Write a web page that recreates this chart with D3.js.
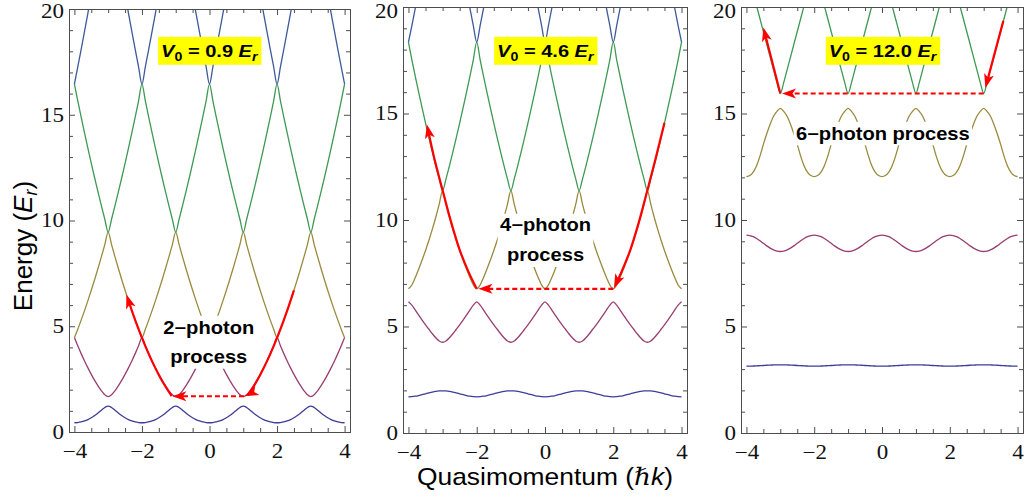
<!DOCTYPE html>
<html>
<head>
<meta charset="utf-8">
<script src="https://cdn.jsdelivr.net/npm/d3@7"></script>
<style>
  body { margin: 0; background: #fff; }
</style>
</head>
<body>
<div id="chart"></div>
<script>
// half a Brillouin zone, read at these quasimomenta (hbar k); bands are mirrored/tiled
var qHalf = [0, 0.1, 0.2, 0.3, 0.4, 0.5, 0.6, 0.7, 0.8, 0.9, 1.0];
var zoneCentres = [-4, -2, 0, 2, 4];

// V0 = 0.9 Er
var bandsShallow = [
  [0.437, 0.446, 0.474, 0.522, 0.589, 0.675, 0.779, 0.899, 1.031, 1.159, 1.225],
  [4.463, 4.074, 3.706, 3.358, 3.031, 2.725, 2.441, 2.181, 1.949, 1.761, 1.675],
  [4.46, 4.86, 5.29, 5.74, 6.21, 6.70, 7.21, 7.74, 8.29, 8.86, 9.45],
  [16.45, 15.66, 14.89, 14.14, 13.41, 12.70, 12.01, 11.34, 10.69, 10.06, 9.45],
  [16.45, 17.26, 18.09, 18.94, 19.81, 20.70, 21.61, 22.54, 23.49, 24.46, 25.45]
];
// V0 = 4.6 Er
var bandsMid = [
  [1.70, 1.707, 1.727, 1.758, 1.797, 1.84, 1.883, 1.922, 1.953, 1.973, 1.98],
  [6.16, 6.00, 5.77, 5.53, 5.30, 5.08, 4.87, 4.66, 4.47, 4.32, 4.26],
  [6.77, 6.95, 7.30, 7.70, 8.12, 8.57, 9.05, 9.57, 10.13, 10.73, 11.38],
  [18.35, 17.52, 16.74, 15.99, 15.26, 14.55, 13.86, 13.19, 12.54, 11.93, 11.38],
  [18.35, 19.13, 19.95, 20.80, 21.66, 22.55, 23.46, 24.40, 25.40, 26.30, 27.30]
];
// V0 = 12.0 Er
var bandsDeep = [
  [3.14, 3.141, 3.145, 3.15, 3.16, 3.17, 3.18, 3.19, 3.195, 3.20, 3.20],
  [9.29, 9.271, 9.216, 9.131, 9.024, 8.905, 8.786, 8.679, 8.593, 8.539, 8.52],
  [12.04, 12.09, 12.25, 12.55, 13.0, 13.55, 14.05, 14.50, 14.87, 15.10, 15.24],
  [21.9, 21.3, 20.7, 20.05, 19.45, 18.85, 18.25, 17.65, 17.05, 16.45, 15.94]
];

var bandColors = ['#3d3d99', '#993d71', '#998b3d', '#3d9954', '#3d5a99'];

// red transition arrows (quasimomentum, energy)
var arrowsShallow = [
  { q: [-1.12, -1.3, -1.5, -1.7, -1.9, -2.1, -2.3, -2.46], e: [1.70, 2.14, 2.70, 3.34, 4.06, 4.86, 5.74, 6.50] },
  { q: [2.5, 2.3, 2.1, 1.9, 1.7, 1.5, 1.3, 1.15, 1.04], e: [6.70, 5.74, 4.86, 4.06, 3.34, 2.70, 2.14, 1.77, 1.69] }
];
var dashShallow = { q: [1.02, -1.1], e: [1.69, 1.69] };

var arrowsMid = [
  { q: [-2.0, -2.25, -2.5, -2.75, -3.0, -3.25, -3.46], e: [6.77, 7.6, 8.6, 9.9, 11.4, 12.95, 14.48] },
  { q: [3.5, 3.25, 3.0, 2.75, 2.5, 2.25, 2.02], e: [14.56, 12.95, 11.4, 9.9, 8.6, 7.6, 6.80] }
];
var dashMid = { q: [2.0, -1.95], e: [6.77, 6.77] };

var arrowsDeep = [
  { q: [-3.0, -3.5], e: [15.94, 19.04] },
  { q: [3.58, 3.05], e: [19.35, 16.2] }
];
var dashDeep = { q: [3.0, -2.95], e: [15.94, 15.94] };

var depthValues = ['0.9', '4.6', '12.0'];
var processLines = [['2\u2212photon', 'process'], ['4\u2212photon', 'process'], ['6\u2212photon process']];

var xTicks = [-4, -2, 0, 2, 4];
var yTicks = [0, 5, 10, 15, 20];

// ---------------------------------------------------------------------------
var width = 1025, height = 502;
var frameColor = '#4d4d4d';
var sansFont = "'Liberation Sans', Arial, Helvetica, sans-serif";
var serifFont = "'Liberation Serif', 'DejaVu Serif', serif";

var panels = [
  { bands: bandsShallow, arrows: arrowsShallow, dash: dashShallow,
    x0: 69, x1: 350, y0: 9, y1: 432, boxX: 209.3, procX: 208.7, procY: [333.6, 363] },
  { bands: bandsMid, arrows: arrowsMid, dash: dashMid,
    x0: 403, x1: 687, y0: 7, y1: 433, boxX: 545.3, procX: 545.5, procY: [231.5, 261.3] },
  { bands: bandsDeep, arrows: arrowsDeep, dash: dashDeep,
    x0: 741, x1: 1023, y0: 7, y1: 433, boxX: 882.5, procX: 882.8, procY: [139.6] }
];

var svg = d3.select('#chart').append('svg')
  .attr('width', width)
  .attr('height', height);

svg.append('rect').attr('width', width).attr('height', height).attr('fill', '#fff');

var defs = svg.append('defs');

// repeat the half-zone values over -4..4
function tileBand(vals) {
  var pts = [];
  zoneCentres.forEach(function(c) {
    qHalf.forEach(function(q, i) {
      pts.push([c - q, vals[i]]);
      if (q > 0) pts.push([c + q, vals[i]]);
    });
  });
  pts = pts.filter(function(p) { return p[0] >= -4.0001 && p[0] <= 4.0001; });
  pts.sort(function(a, b) { return a[0] - b[0]; });
  return pts.filter(function(p, i) { return i === 0 || Math.abs(p[0] - pts[i - 1][0]) > 1e-6; });
}

// stretch text horizontally (the source figure was rendered wide)
function stretch(sel, sx) {
  sel.each(function() {
    var t = d3.select(this);
    var xv = +t.attr('x') || 0;
    t.attr('x', xv / sx).attr('transform', 'scale(' + sx + ',1)');
  });
}

function drawArrow(g, x, y, q, e, dashed) {
  var pts = q.map(function(v, i) { return [x(v), y(e[i])]; });
  var n = pts.length;
  var tip = pts[n - 1];
  var prev = pts[n - 2];
  var ang = Math.atan2(tip[1] - prev[1], tip[0] - prev[0]);
  // stop the stroke a little short of the tip
  var linePts = pts.slice(0, n - 1);
  linePts.push([tip[0] - 6 * Math.cos(ang), tip[1] - 6 * Math.sin(ang)]);

  g.append('path')
    .attr('d', d3.line().curve(d3.curveCatmullRom.alpha(0.5))(linePts))
    .attr('fill', 'none')
    .attr('stroke', '#ff0000')
    .attr('stroke-width', 2.2)
    .attr('stroke-dasharray', dashed ? '5,3' : null);

  g.append('path')
    .attr('d', 'M0,0L-14,-5L-10.5,0L-14,5Z')
    .attr('fill', '#ff0000')
    .attr('transform', 'translate(' + tip[0] + ',' + tip[1] + ') rotate(' + (ang * 180 / Math.PI) + ')');
}

panels.forEach(function(p, pi) {
  var x = d3.scaleLinear().domain([-4.16, 4.16]).range([p.x0, p.x1]);
  var y = d3.scaleLinear().domain([0, 20]).range([p.y1, p.y0]);

  defs.append('clipPath').attr('id', 'clip' + pi)
    .append('rect')
    .attr('x', p.x0).attr('y', p.y0)
    .attr('width', p.x1 - p.x0).attr('height', p.y1 - p.y0);

  var plot = svg.append('g').attr('clip-path', 'url(#clip' + pi + ')');

  // bands
  var line = d3.line()
    .x(function(d) { return x(d[0]); })
    .y(function(d) { return y(d[1]); })
    .curve(d3.curveMonotoneX);

  p.bands.forEach(function(vals, bi) {
    plot.append('path')
      .datum(tileBand(vals))
      .attr('d', line)
      .attr('fill', 'none')
      .attr('stroke', bandColors[bi])
      .attr('stroke-width', 1.3);
  });

  // transition arrows
  p.arrows.forEach(function(a) {
    drawArrow(plot, x, y, a.q, a.e, false);
  });
  drawArrow(plot, x, y, p.dash.q, p.dash.e, true);

  // axes: ticks on all four sides, pointing in
  var minorX = d3.range(-4, 4.001, 0.5).filter(function(v) { return xTicks.indexOf(v) < 0; });
  var minorY = d3.range(0, 20.001, 1).filter(function(v) { return yTicks.indexOf(v) < 0; });

  var axes = svg.append('g');

  var bottom = axes.append('g').attr('transform', 'translate(0,' + p.y1 + ')')
    .call(d3.axisBottom(x).tickValues(xTicks).tickSize(-6).tickPadding(12));
  axes.append('g').attr('transform', 'translate(0,' + p.y1 + ')')
    .call(d3.axisBottom(x).tickValues(minorX).tickSize(-4).tickFormat(''));
  axes.append('g').attr('transform', 'translate(0,' + p.y0 + ')')
    .call(d3.axisTop(x).tickValues(xTicks).tickSize(-6).tickFormat(''));
  axes.append('g').attr('transform', 'translate(0,' + p.y0 + ')')
    .call(d3.axisTop(x).tickValues(minorX).tickSize(-4).tickFormat(''));

  var left = axes.append('g').attr('transform', 'translate(' + p.x0 + ',0)')
    .call(d3.axisLeft(y).tickValues(yTicks).tickSize(-6).tickPadding(5));
  axes.append('g').attr('transform', 'translate(' + p.x0 + ',0)')
    .call(d3.axisLeft(y).tickValues(minorY).tickSize(-4).tickFormat(''));
  axes.append('g').attr('transform', 'translate(' + p.x1 + ',0)')
    .call(d3.axisRight(y).tickValues(yTicks).tickSize(-6).tickFormat(''));
  axes.append('g').attr('transform', 'translate(' + p.x1 + ',0)')
    .call(d3.axisRight(y).tickValues(minorY).tickSize(-4).tickFormat(''));

  axes.selectAll('.domain').remove();
  axes.selectAll('.tick line').attr('stroke', frameColor);
  axes.selectAll('g').attr('font-family', null).attr('font-size', null);
  axes.selectAll('text')
    .attr('fill', '#111')
    .attr('font-family', serifFont)
    .attr('font-size', 20);
  stretch(bottom.selectAll('text'), 1.15);
  stretch(left.selectAll('text'), 1.15);
  // the top label sits a little lower so it stays inside the picture
  left.selectAll('text')
    .filter(function(d) { return d === 20; })
    .attr('y', Math.max(0, 11.5 - p.y0));

  axes.append('rect')
    .attr('x', p.x0 + 0.5).attr('y', p.y0 + 0.5)
    .attr('width', p.x1 - p.x0).attr('height', p.y1 - p.y0)
    .attr('fill', 'none')
    .attr('stroke', frameColor)
    .attr('stroke-width', 1);

  // "n-photon process" label on a white background
  var procG = svg.append('g')
    .attr('transform', 'translate(' + p.procX + ',0) scale(1.15,1)');
  var procText = procG.append('text')
    .attr('text-anchor', 'middle')
    .attr('font-family', sansFont)
    .attr('font-weight', 'bold')
    .attr('font-size', 17.5);
  processLines[pi].forEach(function(s, li) {
    procText.append('tspan').attr('x', 0).attr('y', p.procY[li]).text(s);
  });
  var pb = procText.node().getBBox();
  procG.insert('rect', 'text')
    .attr('x', pb.x - 2).attr('y', pb.y - 2)
    .attr('width', pb.width + 4).attr('height', pb.height + 4)
    .attr('fill', '#fff');

  // V0 label in a yellow box
  var boxG = svg.append('g')
    .attr('transform', 'translate(' + p.boxX + ',57.3) scale(1.18,1)');
  var vt = boxG.append('text')
    .attr('text-anchor', 'middle')
    .attr('font-family', sansFont)
    .attr('font-weight', 'bold')
    .attr('font-size', 17);
  vt.append('tspan').attr('font-style', 'italic').text('V');
  vt.append('tspan').attr('font-size', 12).attr('dy', 4).text('0');
  vt.append('tspan').attr('dy', -4).text('\u00a0=\u00a0' + depthValues[pi] + '\u00a0');
  vt.append('tspan').attr('font-style', 'italic').text('E');
  vt.append('tspan').attr('font-style', 'italic').attr('font-size', 12).attr('dy', 4).text('r');
  var vb = vt.node().getBBox();
  boxG.insert('rect', 'text')
    .attr('x', vb.x - 2.5).attr('y', -20.5)
    .attr('width', vb.width + 5).attr('height', 28)
    .attr('fill', '#ffff00');
});

// axis titles
var xTitle = svg.append('text')
  .attr('x', 545).attr('y', 485)
  .attr('text-anchor', 'middle')
  .attr('font-family', sansFont)
  .attr('font-size', 24)
  .attr('transform', 'translate(545,0) scale(1.1,1) translate(-545,0)');
xTitle.append('tspan').text('Quasimomentum (');
xTitle.append('tspan').attr('font-family', serifFont).attr('font-style', 'italic').text('\u210f');
xTitle.append('tspan').attr('font-style', 'italic').text('k');
xTitle.append('tspan').text(')');

var yTitle = svg.append('text')
  .attr('transform', 'translate(32,246) rotate(-90)')
  .attr('text-anchor', 'middle')
  .attr('font-family', sansFont)
  .attr('font-size', 26);
yTitle.append('tspan').text('Energy (');
yTitle.append('tspan').attr('font-style', 'italic').text('E');
yTitle.append('tspan').attr('font-style', 'italic').attr('font-size', 18).attr('dy', 5).text('r');
yTitle.append('tspan').attr('dy', -5).text(')');
</script>
</body>
</html>
